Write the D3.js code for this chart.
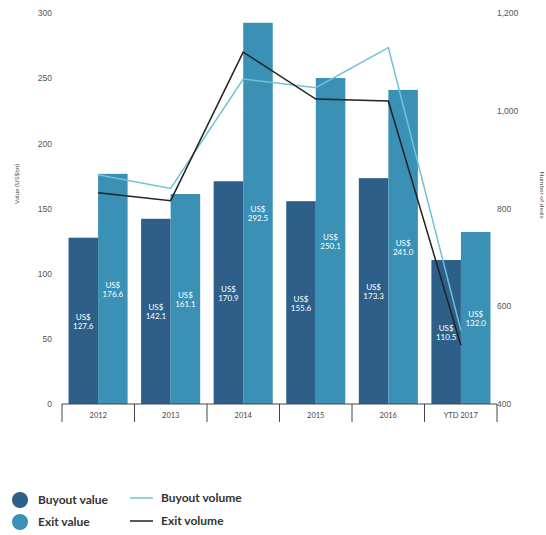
<!DOCTYPE html>
<html>
<head>
<meta charset="utf-8">
<script src="https://cdn.jsdelivr.net/npm/d3@7"></script>
<style>
  body { margin: 0; background: #fff; }
  svg { font-family: Lato, "Open Sans", sans-serif; }
</style>
</head>
<body>
<div id="vis"></div>
<script>
// chart data
var years = ["2012", "2013", "2014", "2015", "2016", "YTD 2017"];
var buyoutValue = [127.6, 142.1, 170.9, 155.6, 173.3, 110.5];
var exitValue = [176.6, 161.1, 292.5, 250.1, 241.0, 132.0];
var buyoutVolume = [869, 841, 1065, 1047, 1129, 550];
var exitVolume = [832, 816, 1120, 1024, 1020, 520];
var leftTicks = [0, 50, 100, 150, 200, 250, 300];
var rightTicks = [400, 600, 800, 1000, 1200];

var darkBlue = "#2e5f88";
var midBlue = "#3a91b5";
var lightLine = "#6fc3d6";
var darkLine = "#222222";

var svg = d3.select("#vis")
  .append("svg")
  .attr("width", 546)
  .attr("height", 535);

var x = d3.scaleBand()
  .domain(years)
  .range([62, 497])
  .paddingInner(0.186)
  .paddingOuter(0.09);

var xOuter = d3.scaleBand()
  .domain(years)
  .range([62, 497]);

var x1 = d3.scaleBand()
  .domain(["buyout", "exit"])
  .range([0, x.bandwidth()]);

var y = d3.scaleLinear().domain([0, 300]).range([404, 13]);
var yR = d3.scaleLinear().domain([400, 1200]).range([404, 13]);

// left axis
var leftAxis = svg.append("g")
  .attr("transform", "translate(52,0)")
  .call(d3.axisLeft(y).tickValues(leftTicks).tickSize(0).tickPadding(0));
leftAxis.select(".domain").remove();
leftAxis.selectAll("text").attr("fill", "#555").style("font-size", "8.5px");

// right axis
var rightAxis = svg.append("g")
  .attr("transform", "translate(497,0)")
  .call(d3.axisRight(yR).tickValues(rightTicks).tickSize(0).tickPadding(0).tickFormat(d3.format(",")));
rightAxis.select(".domain").remove();
rightAxis.selectAll("text").attr("fill", "#555").style("font-size", "8.5px");

svg.append("text")
  .attr("transform", "translate(19,184) rotate(-90)")
  .attr("text-anchor", "middle")
  .attr("fill", "#555")
  .style("font-size", "6.5px")
  .text("Value (US$bn)");

svg.append("text")
  .attr("transform", "translate(540,195) rotate(90)")
  .attr("text-anchor", "middle")
  .attr("fill", "#555")
  .style("font-size", "6.5px")
  .text("Number of deals");

// bars
var groups = svg.selectAll(".yr")
  .data(years)
  .enter()
  .append("g")
  .attr("class", "yr")
  .attr("transform", function (d) { return "translate(" + x(d) + ",0)"; });

var barData = function (d, i) {
  return [
    { key: "buyout", value: buyoutValue[i], color: darkBlue },
    { key: "exit", value: exitValue[i], color: midBlue }
  ];
};

groups.selectAll("rect")
  .data(barData)
  .enter()
  .append("rect")
  .attr("x", function (d) { return x1(d.key); })
  .attr("y", function (d) { return y(d.value); })
  .attr("width", x1.bandwidth())
  .attr("height", function (d) { return y(0) - y(d.value); })
  .attr("fill", function (d) { return d.color; });

// category axis with separators
svg.append("line")
  .attr("x1", 62).attr("x2", 497)
  .attr("y1", 404).attr("y2", 404)
  .attr("stroke", "#444").attr("stroke-width", 1);

var seps = years.map(function (d) { return xOuter(d); }).concat([497]);
svg.selectAll(".sep")
  .data(seps)
  .enter()
  .append("line")
  .attr("x1", function (d) { return d; })
  .attr("x2", function (d) { return d; })
  .attr("y1", 404).attr("y2", 422)
  .attr("stroke", "#444").attr("stroke-width", 1);

svg.selectAll(".cat")
  .data(years)
  .enter()
  .append("text")
  .attr("x", function (d) { return xOuter(d) + xOuter.bandwidth() / 2; })
  .attr("y", 418)
  .attr("text-anchor", "middle")
  .attr("fill", "#444")
  .style("font-size", "7.5px")
  .text(function (d) { return d; });

// lines
var cx = function (d, i) { return x(years[i]) + x.bandwidth() / 2; };

svg.append("path")
  .datum(buyoutVolume)
  .attr("fill", "none")
  .attr("stroke", lightLine)
  .attr("stroke-width", 1.5)
  .attr("d", d3.line().x(cx).y(function (d) { return yR(d); }));

svg.append("path")
  .datum(exitVolume)
  .attr("fill", "none")
  .attr("stroke", darkLine)
  .attr("stroke-width", 1.5)
  .attr("d", d3.line().x(cx).y(function (d) { return yR(d); }));

// value labels in the bars
groups.selectAll(".lbl")
  .data(barData)
  .enter()
  .append("text")
  .attr("class", "lbl")
  .attr("x", function (d) { return x1(d.key) + x1.bandwidth() / 2; })
  .attr("y", function (d) { return (y(d.value) + y(0)) / 2; })
  .attr("text-anchor", "middle")
  .attr("fill", "#fff")
  .style("font-size", "8px")
  .each(function (d) {
    var t = d3.select(this);
    t.append("tspan").attr("x", t.attr("x")).attr("dy", "-1px").text("US$");
    t.append("tspan").attr("x", t.attr("x")).attr("dy", "9px").text(d.value.toFixed(1));
  });

// legend
var legend = svg.append("g");
legend.append("circle").attr("cx", 20).attr("cy", 500).attr("r", 8).attr("fill", darkBlue);
legend.append("circle").attr("cx", 20).attr("cy", 522).attr("r", 8).attr("fill", midBlue);
legend.append("text").attr("x", 38).attr("y", 504).style("font-size", "12px").style("font-weight", "bold").attr("fill", "#333").text("Buyout value");
legend.append("text").attr("x", 38).attr("y", 526).style("font-size", "12px").style("font-weight", "bold").attr("fill", "#333").text("Exit value");
legend.append("line").attr("x1", 130).attr("x2", 153).attr("y1", 498).attr("y2", 498).attr("stroke", lightLine).attr("stroke-width", 1.5);
legend.append("line").attr("x1", 130).attr("x2", 153).attr("y1", 521).attr("y2", 521).attr("stroke", darkLine).attr("stroke-width", 1.5);
legend.append("text").attr("x", 161).attr("y", 502).style("font-size", "12px").style("font-weight", "bold").attr("fill", "#333").text("Buyout volume");
legend.append("text").attr("x", 161).attr("y", 525).style("font-size", "12px").style("font-weight", "bold").attr("fill", "#333").text("Exit volume");
</script>
</body>
</html>
